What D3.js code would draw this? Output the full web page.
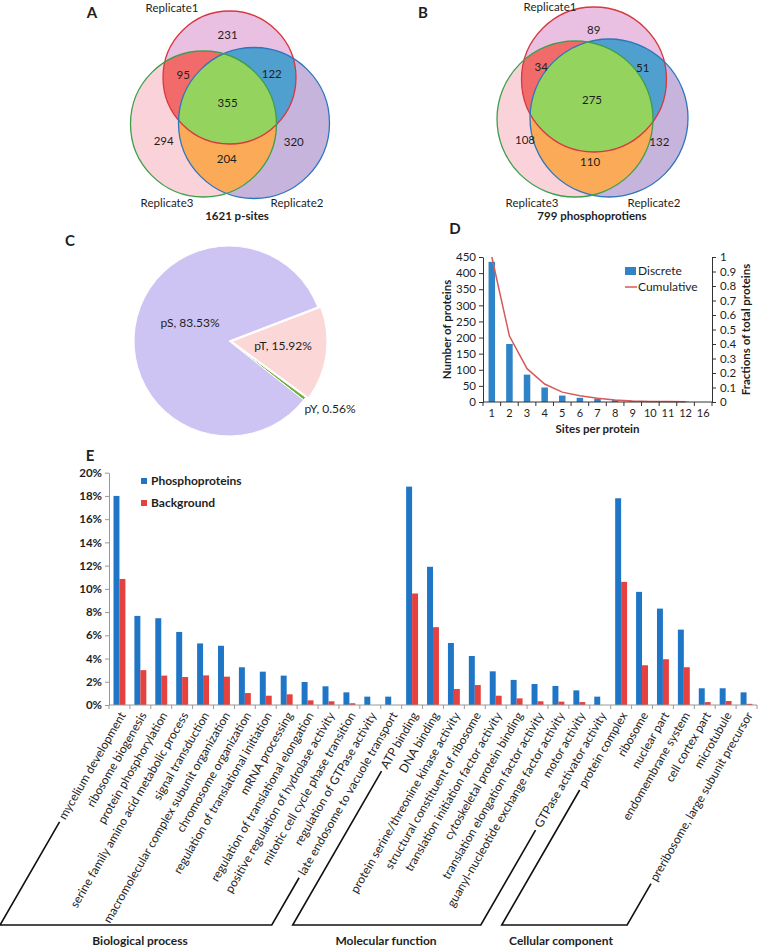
<!DOCTYPE html>
<html><head><meta charset="utf-8">
<script src="https://cdn.jsdelivr.net/npm/d3@7"></script>
<style>
body{margin:0;background:#fff}
svg{display:block}
text{font-family:Lato,"Open Sans",sans-serif;fill:#1e1e1e}
</style>
</head><body>
<svg id="c" width="760" height="948"></svg>
<script>
// ================= DATA =================
const vennSetNames = ["Replicate1", "Replicate2", "Replicate3"];
const vennRegions = ["1", "2", "3", "12", "13", "23", "123"];
const vennACounts = [231, 320, 294, 122, 95, 204, 355];
const vennBCounts = [89, 132, 108, 51, 34, 110, 275];
const vennATitle = "1621 p-sites";
const vennBTitle = "799 phosphoprotiens";

const pieLabels = ["pT", "pY", "pS"];
const pieValues = [15.92, 0.56, 83.53];

const sitesCategories = ["1","2","3","4","5","6","7","8","9","10","11","12","16"].filter(d => d !== "13");
const sitesDiscrete = [435, 180, 85, 45, 20, 13, 10, 6, 2, 1, 1, 1];
const sitesCumulative = [1, 0.455, 0.23, 0.124, 0.068, 0.043, 0.026, 0.014, 0.007, 0.004, 0.003, 0.001];
const sitesLeftTicks = [0, 50, 100, 150, 200, 250, 300, 350, 400, 450];
const sitesRightTicks = [0, 0.1, 0.2, 0.3, 0.4, 0.5, 0.6, 0.7, 0.8, 0.9, 1];
const sitesSeries = ["Discrete", "Cumulative"];

const goCategories = [
  "mycelium development", "ribosome biogenesis", "protein phosphorylation",
  "serine family amino acid metabolic process", "signal transduction",
  "macromolecular complex subunit organization", "chromosome organization",
  "regulation of translational initiation", "mRNA processing",
  "regulation of translational elongation", "positive regulation of hydrolase activity",
  "mitotic cell cycle phase transition", "regulation of GTPase activity",
  "late endosome to vacuole transport",
  "ATP binding", "DNA binding", "protein serine/threonine kinase activity",
  "structural constituent of ribosome", "translation initiation factor activity",
  "cytoskeletal protein binding", "translation elongation factor activity",
  "guanyl-nucleotide exchange factor activity", "motor activity", "GTPase activator activity",
  "protein complex", "ribosome", "nuclear part", "endomembrane system",
  "cell cortex part", "microtubule", "preribosome, large subunit precursor"
];
const goGroups = ["Biological process", "Molecular function", "Cellular component"];
const goGroupSizes = [14, 10, 7];
const goPhospho = [18.0, 7.67, 7.47, 6.29, 5.3, 5.1, 3.25, 2.87, 2.53, 1.98, 1.61, 1.09, 0.72, 0.72,
                   18.8, 11.9, 5.34, 4.22, 2.9, 2.16, 1.81, 1.64, 1.26, 0.72,
                   17.8, 9.74, 8.3, 6.49, 1.44, 1.44, 1.09];
const goBackground = [10.85, 3.0, 2.53, 2.41, 2.55, 2.44, 1.03, 0.8, 0.92, 0.4, 0.32, 0.15, 0, 0,
                      9.6, 6.7, 1.38, 1.72, 0.8, 0.57, 0.32, 0.29, 0.25, 0,
                      10.6, 3.42, 3.94, 3.25, 0.25, 0.34, 0.1];
const goTicks = [0, 2, 4, 6, 8, 10, 12, 14, 16, 18, 20];
const goSeries = ["Phosphoproteins", "Background"];

// ================= LAYOUT =================
const svg = d3.select("#c");
const defs = svg.append("defs");

const panelLetters = [["A", 92, 18], ["B", 423, 18], ["C", 70, 246], ["D", 455, 234], ["E", 90, 461]];
panelLetters.forEach(([t, x, y]) => svg.append("text").attr("x", x).attr("y", y)
  .attr("text-anchor", "middle").attr("font-size", 15).attr("font-weight", 700).text(t));

// ---------- Venn ----------
const vennColors = {"1": "#e9c0e1", "2": "#c7b4dd", "3": "#fad3da", "12": "#4f9fcf",
                    "13": "#f26b6b", "23": "#fbab57", "123": "#94d35d"};
const vennStroke = ["#d7373f", "#2e75bd", "#3c9f4c"];

function regionCentroid(circles, key) {
  let sx = 0, sy = 0, n = 0;
  const x0 = d3.min(circles, c => c.cx - c.r), x1 = d3.max(circles, c => c.cx + c.r);
  const y0 = d3.min(circles, c => c.cy - c.r), y1 = d3.max(circles, c => c.cy + c.r);
  for (let x = x0; x <= x1; x += 1) for (let y = y0; y <= y1; y += 1) {
    let ok = true;
    circles.forEach((c, i) => {
      const ins = (x - c.cx) ** 2 + (y - c.cy) ** 2 <= c.r * c.r;
      if (ins !== key.includes(String(i + 1))) ok = false;
    });
    if (ok) { sx += x; sy += y; n++; }
  }
  return [sx / n, sy / n];
}

function drawVenn(id, circles, counts, setLabelPos, title, titlePos) {
  const g = svg.append("g");
  circles.forEach((c, i) => defs.append("clipPath").attr("id", `${id}c${i}`)
    .append("circle").attr("cx", c.cx).attr("cy", c.cy).attr("r", c.r));
  circles.forEach((c, i) => g.append("circle").attr("cx", c.cx).attr("cy", c.cy).attr("r", c.r)
    .attr("fill", vennColors[String(i + 1)]));
  [[0, 1, "12"], [0, 2, "13"], [1, 2, "23"]].forEach(([a, b, k]) => {
    const c = circles[b];
    g.append("g").attr("clip-path", `url(#${id}c${a})`).append("circle")
      .attr("cx", c.cx).attr("cy", c.cy).attr("r", c.r).attr("fill", vennColors[k]);
  });
  const c2 = circles[2];
  g.append("g").attr("clip-path", `url(#${id}c0)`).append("g").attr("clip-path", `url(#${id}c1)`)
    .append("circle").attr("cx", c2.cx).attr("cy", c2.cy).attr("r", c2.r).attr("fill", vennColors["123"]);
  circles.forEach((c, i) => g.append("circle").attr("cx", c.cx).attr("cy", c.cy).attr("r", c.r)
    .attr("fill", "none").attr("stroke", vennStroke[i]).attr("stroke-width", 1.3));
  vennRegions.forEach((k, i) => {
    const [x, y] = regionCentroid(circles, k);
    g.append("text").attr("x", x).attr("y", y).attr("dy", "0.35em").attr("text-anchor", "middle")
      .attr("font-size", 11.5).text(counts[i]);
  });
  vennSetNames.forEach((n, i) => g.append("text").attr("x", setLabelPos[i][0]).attr("y", setLabelPos[i][1])
    .attr("text-anchor", "middle").attr("font-size", 11.5).text(n));
  g.append("text").attr("x", titlePos[0]).attr("y", titlePos[1]).attr("text-anchor", "middle")
    .attr("font-size", 11.5).attr("font-weight", 700).text(title);
}

drawVenn("va", [{cx: 229.5, cy: 77.5, r: 66.5}, {cx: 254, cy: 123, r: 75.5}, {cx: 203.5, cy: 124, r: 73}],
  vennACounts, [[172, 12], [297, 207], [167, 207]], vennATitle, [237, 220]);
drawVenn("vb", [{cx: 594, cy: 79.5, r: 72.5}, {cx: 609, cy: 118, r: 79}, {cx: 575, cy: 119, r: 78}],
  vennBCounts, [[550, 11], [654, 207], [532, 207]], vennBTitle, [592, 220]);

// ---------- Pie ----------
const pieC = [229, 341], pieR = 95;
const pieColors = ["#fcd7d7", "#6dae3f", "#cec4f3"];
const pieLabelOff = [[54, 5], [101, 68], [-39, -18]];
const a0 = 69 * Math.PI / 180;
const pieArcs = d3.pie().sort(null).startAngle(a0).endAngle(a0 + 2 * Math.PI)(pieValues);
const arcGen = d3.arc().innerRadius(0).outerRadius(pieR);
const pg = svg.append("g").attr("transform", `translate(${pieC})`);
pieArcs.forEach((a, i) => {
  const mid = (a.startAngle + a.endAngle) / 2;
  const ex = i === 0 ? 3 : 0;
  pg.append("path").attr("d", arcGen(a)).attr("fill", pieColors[i])
    .attr("stroke", "#fff").attr("stroke-width", 1)
    .attr("transform", `translate(${Math.sin(mid) * ex},${-Math.cos(mid) * ex})`);
});
pieLabels.forEach((l, i) => pg.append("text").attr("x", pieLabelOff[i][0]).attr("y", pieLabelOff[i][1])
  .attr("dy", "0.35em").attr("text-anchor", "middle").attr("font-size", 12)
  .text(`${l}, ${pieValues[i].toFixed(2)}%`));

// ---------- Panel D ----------
const dL = 483, dR = 712, dT = 257, dB = 402;
const xD = d3.scaleBand().domain(sitesCategories).range([dL, dR]).paddingInner(0.63).paddingOuter(0.315);
const yDL = d3.scaleLinear().domain([0, 450]).range([dB, dT]);
const yDR = d3.scaleLinear().domain([0, 1]).range([dB, dT]);
const gD = svg.append("g");
gD.selectAll("rect.bar").data(sitesDiscrete).join("rect").attr("class", "bar")
  .attr("x", (d, i) => xD(sitesCategories[i])).attr("width", xD.bandwidth())
  .attr("y", d => yDL(d)).attr("height", d => dB - yDL(d)).attr("fill", "#2f84c8");
gD.append("path").datum(sitesCumulative)
  .attr("d", d3.line().x((d, i) => xD(sitesCategories[i]) + xD.bandwidth() / 2).y(d => yDR(d)))
  .attr("fill", "none").attr("stroke", "#d65a58").attr("stroke-width", 1.5);
const axL = gD.append("g").attr("transform", `translate(${dL},0)`)
  .call(d3.axisLeft(yDL).tickValues(sitesLeftTicks).tickSize(4).tickSizeOuter(0).tickPadding(3));
const axR = gD.append("g").attr("transform", `translate(${dR},0)`)
  .call(d3.axisRight(yDR).tickValues(sitesRightTicks).tickSize(4).tickSizeOuter(0).tickPadding(4)
    .tickFormat(d => d3.format("")(+d.toFixed(1))));
[axL, axR].forEach(a => { a.selectAll("text").attr("font-size", 11.5).attr("font-family", null).style("fill", "#1e1e1e");
  a.selectAll("path,line").attr("stroke", "#333"); });
gD.append("line").attr("x1", dL).attr("x2", dR).attr("y1", dB).attr("y2", dB).attr("stroke", "#333");
d3.range(sitesCategories.length + 1).forEach(i => {
  const x = dL + xD.step() * i;
  gD.append("line").attr("x1", x).attr("x2", x).attr("y1", dB).attr("y2", dB + 4).attr("stroke", "#333");
});
sitesCategories.forEach(c => gD.append("text").attr("x", xD(c) + xD.bandwidth() / 2).attr("y", 413)
  .attr("dy", "0.35em").attr("text-anchor", "middle").attr("font-size", 11).text(c));
gD.append("text").attr("transform", `translate(447,${(dT + dB) / 2}) rotate(-90)`).attr("text-anchor", "middle")
  .attr("dy", "0.35em").attr("font-size", 11.5).attr("font-weight", 700).text("Number of proteins");
gD.append("text").attr("transform", `translate(746,${(dT + dB) / 2}) rotate(-90)`).attr("text-anchor", "middle")
  .attr("dy", "0.35em").attr("font-size", 11.5).attr("font-weight", 700).text("Fractions of total proteins");
gD.append("text").attr("x", (dL + dR) / 2).attr("y", 429).attr("dy", "0.35em").attr("text-anchor", "middle")
  .attr("font-size", 11.5).attr("font-weight", 700).text("Sites per protein");
gD.append("rect").attr("x", 625).attr("y", 267).attr("width", 11).attr("height", 8).attr("fill", "#2f84c8");
gD.append("text").attr("x", 638).attr("y", 271).attr("dy", "0.35em").attr("font-size", 12).text(sitesSeries[0]);
gD.append("line").attr("x1", 625).attr("x2", 637).attr("y1", 287).attr("y2", 287).attr("stroke", "#d65a58").attr("stroke-width", 1.5);
gD.append("text").attr("x", 638).attr("y", 287).attr("dy", "0.35em").attr("font-size", 12).text(sitesSeries[1]);

// ---------- Panel E ----------
const eL = 109, eR = 757, eT = 472.7, eB = 705;
const xE = d3.scaleBand().domain(d3.range(goCategories.length)).range([eL, eR]).paddingInner(0.43).paddingOuter(0.215);
const yE = d3.scaleLinear().domain([0, 20]).range([eB, eT]);
const gE = svg.append("g");
const eColors = ["#1f76c6", "#e5413e"];
const bw = xE.bandwidth() / 2;
gE.selectAll("rect.p").data(goPhospho).join("rect").attr("class", "p")
  .attr("x", (d, i) => xE(i)).attr("width", bw).attr("y", d => yE(d)).attr("height", d => eB - yE(d)).attr("fill", eColors[0]);
gE.selectAll("rect.b").data(goBackground).join("rect").attr("class", "b")
  .attr("x", (d, i) => xE(i) + bw).attr("width", bw).attr("y", d => yE(d)).attr("height", d => eB - yE(d)).attr("fill", eColors[1]);
const axE = gE.append("g").attr("transform", `translate(${eL},0)`)
  .call(d3.axisLeft(yE).tickValues(goTicks).tickSize(4).tickSizeOuter(0).tickPadding(3).tickFormat(d => d + "%"));
axE.selectAll("text").attr("font-size", 11.5).attr("font-weight", 700).attr("font-family", null).style("fill", "#1e1e1e");
axE.selectAll("path,line").attr("stroke", "#999");
gE.append("line").attr("x1", eL).attr("x2", eR).attr("y1", eB).attr("y2", eB).attr("stroke", "#999");
d3.range(goCategories.length + 1).forEach(i => {
  const x = eL + xE.step() * i;
  gE.append("line").attr("x1", x).attr("x2", x).attr("y1", eB).attr("y2", eB + 4).attr("stroke", "#999");
});
// legend
goSeries.forEach((s, i) => {
  gE.append("rect").attr("x", 141).attr("y", 478 + i * 22).attr("width", 6).attr("height", 6).attr("fill", eColors[i]);
  gE.append("text").attr("x", 151).attr("y", 481 + i * 22).attr("dy", "0.35em").attr("font-size", 12)
    .attr("font-weight", 700).text(s);
});
// category labels
const rad = -60 * Math.PI / 180;
const dir = [Math.cos(rad), Math.sin(rad)];
const anchors = [];
const labelLens = [];
goCategories.forEach((c, i) => {
  const ax = xE(i) + xE.bandwidth() / 2 + 3, ay = 713;
  const t = gE.append("text").attr("transform", `translate(${ax},${ay}) rotate(-60)`)
    .attr("text-anchor", "end").attr("dy", "0.35em").attr("font-size", 12).text(c);
  anchors.push([ax, ay]);
  labelLens.push(t.node().getComputedTextLength());
});
// brackets
const brY = 925, gap = 4;
function downTo(p) { const t = (brY - p[1]) / -dir[1]; return [p[0] - dir[0] * t, brY]; }
function labelStart(i) {
  const [ax, ay] = anchors[i], L = labelLens[i] + gap;
  return [ax - dir[0] * L, ay - dir[1] * L];
}
let start = 0;
goGroups.forEach((gname, gi) => {
  const first = start, last = start + goGroupSizes[gi] - 1;
  const p1 = labelStart(first), p2 = labelStart(last);
  const b1 = downTo(p1), b2 = downTo(p2);
  gE.append("path").attr("d", d3.line()([p1, b1, b2, p2])).attr("fill", "none")
    .attr("stroke", "#111").attr("stroke-width", 1.6);
  gE.append("text").attr("x", [140, 386, 561][gi]).attr("y", 941).attr("dy", "0.35em").attr("text-anchor", "middle")
    .attr("font-size", 12).attr("font-weight", 700).text(gname);
  start += goGroupSizes[gi];
});
</script>
</body></html>
